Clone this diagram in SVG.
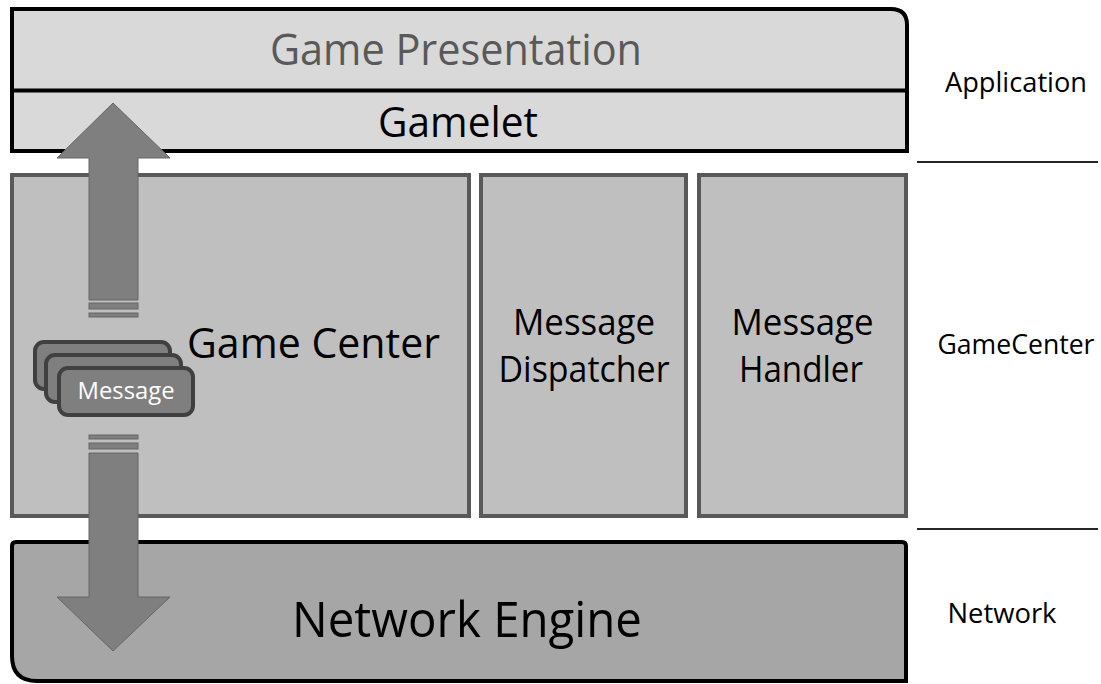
<svg xmlns="http://www.w3.org/2000/svg" width="1101" height="684" viewBox="0 0 1101 684">
<style>
text{font-family:"Open Sans","Noto Sans","Liberation Sans",sans-serif;text-anchor:middle}
.layer{stroke:#000;stroke-width:4}
.gc{fill:#bfbfbf;stroke:#595959;stroke-width:4}
.arrow{fill:#7f7f7f;stroke:#666;stroke-width:1}
.card{fill:#7f7f7f;stroke:#404040;stroke-width:4}
.sep{stroke:#262626;stroke-width:2}
.big{font-size:42px;fill:#000}
.mid{font-size:36px;fill:#000}
.lab{font-size:28px;fill:#000}
</style>
<rect width="1101" height="684" fill="#fff"/>
<g id="application">
<path class="layer" fill="#d9d9d9" d="M12,9 H891 Q907,9 907,25 V151 H12 Z"/>
<line class="layer" x1="12" y1="90.5" x2="907" y2="90.5"/>
<text x="456" y="65" style="font-size:43px;fill:#595959" textLength="372" lengthAdjust="spacingAndGlyphs">Game Presentation</text>
<text x="458" y="137" class="big" textLength="160" lengthAdjust="spacingAndGlyphs">Gamelet</text>
</g>
<g id="game-center">
<rect class="gc" x="12" y="175" width="457" height="341"/>
<text x="313.5" y="358" class="big" textLength="253" lengthAdjust="spacingAndGlyphs">Game Center</text>
</g>
<g id="message-dispatcher">
<rect class="gc" x="481" y="175" width="205" height="341"/>
<text x="584" y="335" class="mid" textLength="142" lengthAdjust="spacingAndGlyphs">Message</text>
<text x="584" y="382" class="mid" textLength="171" lengthAdjust="spacingAndGlyphs">Dispatcher</text>
</g>
<g id="message-handler">
<rect class="gc" x="699" y="175" width="207" height="341"/>
<text x="802.5" y="335" class="mid" textLength="142" lengthAdjust="spacingAndGlyphs">Message</text>
<text x="801" y="382" class="mid" textLength="124" lengthAdjust="spacingAndGlyphs">Handler</text>
</g>
<g id="network-engine">
<path class="layer" fill="#a6a6a6" d="M16,542 H902 Q906,542 906,546 V681 H37 Q12,681 12,656 V546 Q12,542 16,542 Z"/>
<text x="467" y="637" style="font-size:49px;fill:#000" textLength="350" lengthAdjust="spacingAndGlyphs">Network Engine</text>
</g>
<g id="layer-labels">
<text x="1016" y="92" class="lab" textLength="142" lengthAdjust="spacingAndGlyphs">Application</text>
<line class="sep" x1="917" y1="162" x2="1098" y2="162"/>
<text x="1016" y="354" class="lab" textLength="157" lengthAdjust="spacingAndGlyphs">GameCenter</text>
<line class="sep" x1="917" y1="529" x2="1098" y2="529"/>
<text x="1002" y="623" class="lab" textLength="109" lengthAdjust="spacingAndGlyphs">Network</text>
</g>
<g id="connectors">
<polygon class="arrow" points="113,103 170,158 138,158 138,300 89,300 89,158 57,158"/>
<rect class="arrow" x="89" y="303" width="49" height="6"/>
<rect class="arrow" x="89" y="313" width="49" height="4"/>
<rect class="arrow" x="89" y="435" width="49" height="4"/>
<rect class="arrow" x="89" y="443" width="49" height="6"/>
<polygon class="arrow" points="89,453 138,453 138,597 170,597 113,651 57,597 89,597"/>
</g>
<g id="messages">
<rect class="card" x="35" y="342" width="135" height="47" rx="9"/>
<rect class="card" x="46" y="355" width="135" height="47" rx="9"/>
<rect class="card" x="59" y="368" width="134" height="47" rx="9"/>
<text x="126" y="399" style="font-size:24px;fill:#fff" textLength="97" lengthAdjust="spacingAndGlyphs">Message</text>
</g>
</svg>
